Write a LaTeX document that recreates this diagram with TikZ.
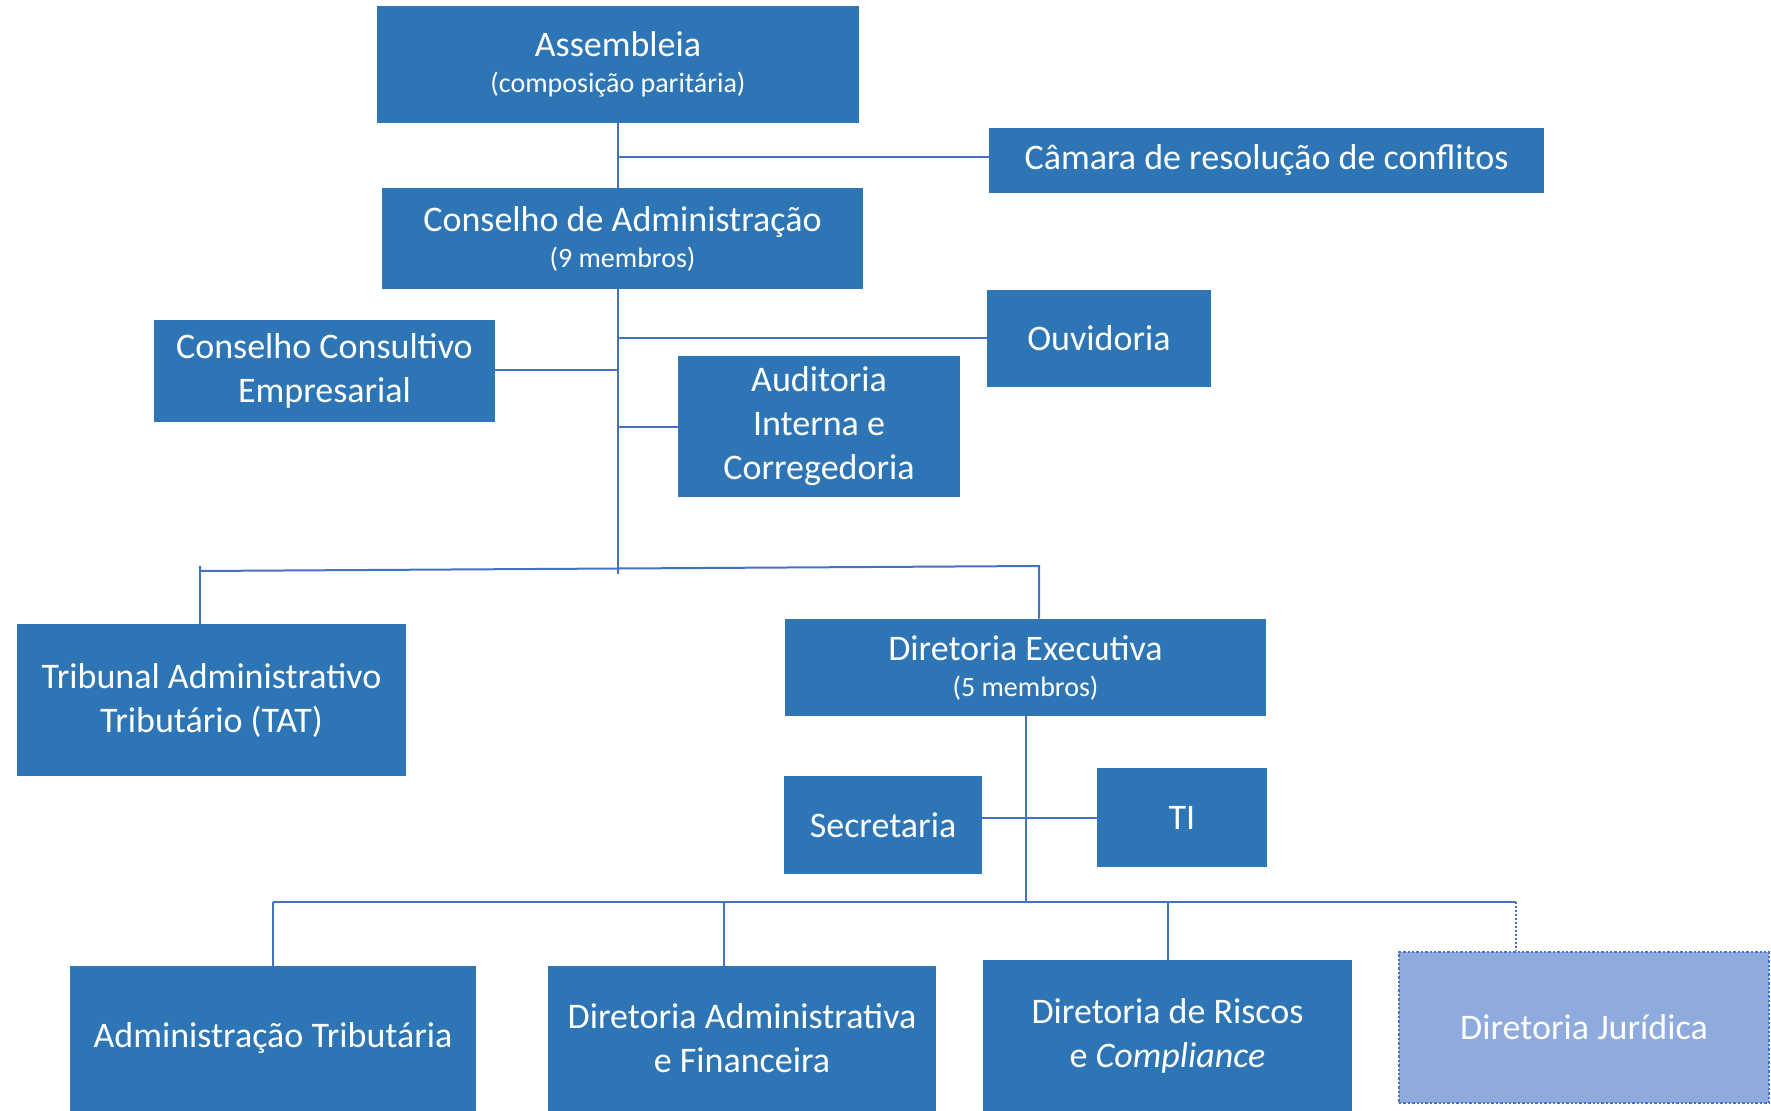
\documentclass[tikz,border=0pt]{standalone}
\usepackage{fontspec}
\setmainfont{Carlito}
\definecolor{azulcaixa}{HTML}{2E75B6}
\definecolor{azulclaro}{HTML}{8FAADC}
\definecolor{azullinha}{HTML}{4472C4}
\newcommand{\membros}[1]{\\[-4pt]{\fontsize{14}{17}\selectfont #1}}
\tikzstyle{caixa} = [fill=azulcaixa, text=white, rectangle, inner sep=0pt, align=center, font=\fontsize{18}{22}\selectfont]
\tikzstyle{caixajur} = [caixa, fill=azulclaro, draw=azullinha, densely dotted, line width=1.2pt]
\tikzstyle{linha} = [draw=azullinha, line width=1pt]

\begin{document}
\begin{tikzpicture}[x=0.5pt, y=-0.5pt]
	\useasboundingbox (0,0) rectangle (1771,1111);
	% caixas
	\node[caixa, minimum width=241pt, minimum height=58.5pt](assemb) at (618,64.5){Assembleia\membros{(composição paritária)}};
	\node[caixa, minimum width=277.5pt, minimum height=32.5pt](camara) at (1266.5,160.5){Câmara de resolução de conflitos};
	\node[caixa, minimum width=240.5pt, minimum height=50.5pt](consadm) at (622.5,238.5){Conselho de Administração\membros{(9 membros)}};
	\node[caixa, minimum width=170.5pt, minimum height=51pt](conscons) at (324.5,371){Conselho Consultivo\\Empresarial};
	\node[caixa, minimum width=112pt, minimum height=48.5pt](ouvid) at (1099,338.5){Ouvidoria};
	\node[caixa, minimum width=141pt, minimum height=70.5pt](audit) at (819,426.5){Auditoria\\Interna e\\Corregedoria};
	\node[caixa, minimum width=194.5pt, minimum height=76pt](tat) at (211.5,700){Tribunal Administrativo\\Tributário (TAT)};
	\node[caixa, minimum width=240.5pt, minimum height=48.5pt](direx) at (1025.5,667.5){Diretoria Executiva\membros{(5 membros)}};
	\node[caixa, minimum width=99pt, minimum height=49pt](secret) at (883,825){Secretaria};
	\node[caixa, minimum width=85pt, minimum height=49.5pt](ti) at (1182,817.5){TI};
	\node[caixa, minimum width=203pt, minimum height=72.5pt](admtrib) at (273,1038.5){Administração Tributária};
	\node[caixa, minimum width=194pt, minimum height=72.5pt](diradm) at (742,1038.5){Diretoria Administrativa\\e Financeira};
	\node[caixa, minimum width=184.5pt, minimum height=75.5pt](dirrisc) at (1167.5,1035.5){Diretoria de Riscos\\e \textit{Compliance}};
	\node[caixajur, minimum width=185pt, minimum height=75.5pt](dirjur) at (1584,1027.5){Diretoria Jurídica};
	% junções
	\coordinate (jcam) at (618,157);
	\coordinate (jouv) at (618,338);
	\coordinate (jcons) at (618,370);
	\coordinate (jaud) at (618,427);
	\coordinate (jfim) at (618,574);
	\coordinate (jtat) at (200,571);
	\coordinate (jdex) at (1039,566);
	\coordinate (jbase) at (1025.5,902);
	\coordinate (jadm) at (273,902);
	\coordinate (jfin) at (724,902);
	\coordinate (jris) at (1167.5,902);
	\coordinate (jjur) at (1516,902);
	% linhas
	\draw[linha] (assemb.south -| jcam) -- (consadm.north -| jcam);
	\draw[linha] (jcam) -- (jcam -| camara.west);
	\draw[linha] (consadm.south -| jcam) -- (jfim);
	\draw[linha] (jouv) -- (jouv -| ouvid.west);
	\draw[linha] (jcons) -- (jcons -| conscons.east);
	\draw[linha] (jaud) -- (jaud -| audit.west);
	\draw[linha] (jtat |- 0,566) -- (jtat) -- (jdex) -- (jdex |- direx.north);
	\draw[linha] (jtat) -- (jtat |- tat.north);
	\draw[linha] (direx.south) -- (jbase);
	\draw[linha] (ti.west) -- (ti.west -| secret.east);
	\draw[linha] (jadm) -- (jjur);
	\draw[linha] (jadm) -- (admtrib.north);
	\draw[linha] (jfin) -- (jfin |- diradm.north);
	\draw[linha] (jris) -- (dirrisc.north);
	\draw[linha, densely dotted, line width=0.6pt] (jjur) -- (jjur |- dirjur.north);
\end{tikzpicture}
\end{document}
